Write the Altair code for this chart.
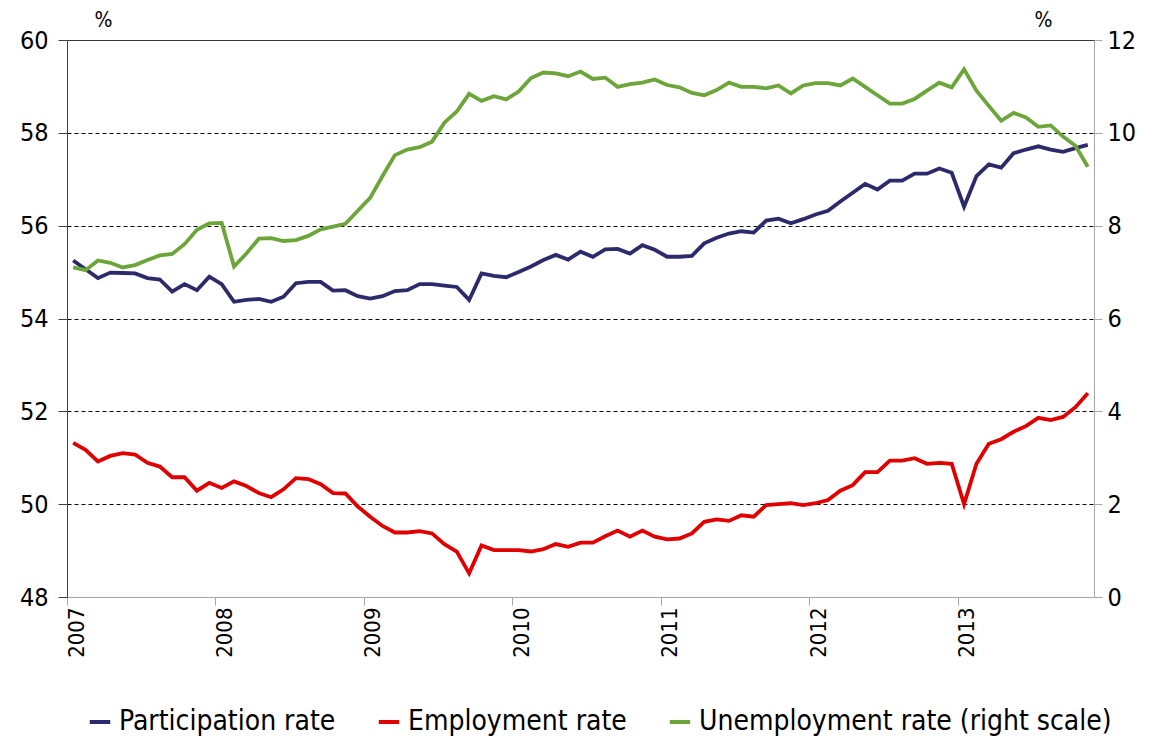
import altair as alt
import pandas as pd

years = [2007, 2008, 2009, 2010, 2011, 2012, 2013]
series_names = ["Participation rate", "Employment rate", "Unemployment rate (right scale)"]
colors = ["#2C2A6B", "#E00000", "#6CA63A"]

participation = [
    55.25, 55.06, 54.87, 54.99, 54.98, 54.97, 54.87, 54.84, 54.58, 54.74, 54.61, 54.90,
    54.74, 54.36, 54.40, 54.42, 54.36, 54.47, 54.76, 54.79, 54.79, 54.60, 54.61, 54.48,
    54.43, 54.48, 54.59, 54.61, 54.74, 54.74, 54.71, 54.68, 54.40, 54.97, 54.92, 54.89,
    55.00, 55.12, 55.26, 55.37, 55.27, 55.44, 55.33, 55.49, 55.50, 55.40, 55.58, 55.48,
    55.33, 55.33, 55.35, 55.62, 55.74, 55.83, 55.88, 55.85, 56.11, 56.15, 56.05, 56.14,
    56.24, 56.32, 56.52, 56.71, 56.90, 56.78, 56.97, 56.97, 57.12, 57.12, 57.23, 57.14,
    56.41, 57.07, 57.32, 57.25, 57.56, 57.64, 57.71, 57.64, 57.59, 57.67, 57.74,
]
employment = [
    51.32, 51.17, 50.92, 51.04, 51.10, 51.07, 50.89, 50.81, 50.58, 50.58, 50.29, 50.46,
    50.35, 50.49, 50.39, 50.24, 50.15, 50.32, 50.56, 50.54, 50.43, 50.24, 50.23, 49.95,
    49.73, 49.53, 49.39, 49.39, 49.42, 49.37, 49.14, 48.98, 48.51, 49.11, 49.01, 49.01,
    49.01, 48.98, 49.03, 49.14, 49.08, 49.17, 49.17, 49.31, 49.43, 49.30, 49.43, 49.30,
    49.24, 49.26, 49.37, 49.62, 49.67, 49.64, 49.76, 49.73, 49.98, 50.00, 50.02, 49.98,
    50.02, 50.09, 50.29, 50.41, 50.69, 50.69, 50.94, 50.94, 50.99, 50.87, 50.89, 50.87,
    50.00, 50.87, 51.30, 51.40, 51.56, 51.68, 51.86, 51.81, 51.88, 52.09, 52.39,
]
unemployment = [
    7.10, 7.04, 7.25, 7.20, 7.10, 7.15, 7.26, 7.36, 7.39, 7.60, 7.91, 8.05,
    8.06, 7.12, 7.40, 7.72, 7.73, 7.67, 7.69, 7.78, 7.92, 7.98, 8.04, 8.32,
    8.60, 9.07, 9.52, 9.64, 9.69, 9.81, 10.22, 10.46, 10.84, 10.69, 10.79, 10.72,
    10.89, 11.18, 11.30, 11.28, 11.22, 11.32, 11.16, 11.19, 10.99, 11.05, 11.08, 11.15,
    11.03, 10.98, 10.86, 10.81, 10.92, 11.08, 10.99, 10.99, 10.96, 11.02, 10.85, 11.02,
    11.07, 11.07, 11.02, 11.17, 10.99, 10.81, 10.63, 10.63, 10.73, 10.91, 11.08, 10.98,
    11.37, 10.91, 10.58, 10.26, 10.43, 10.33, 10.13, 10.16, 9.92, 9.72, 9.27,
]

n = len(participation)
month = [i + 0.5 for i in range(n)]

left_df = pd.DataFrame({
    "m": month * 2,
    "value": participation + employment,
    "series": [series_names[0]] * n + [series_names[1]] * n,
})
right_df = pd.DataFrame({
    "m": month,
    "value": unemployment,
    "series": [series_names[2]] * n,
})

FONT = "DejaVu Sans Condensed"
FS_X = 22
FS_Y = 25
FS_LEG = 28

year_label_expr = "[" + ",".join(f"'{y}'" for y in years) + "][round(datum.value/12)]"

x_enc = alt.X(
    "m:Q",
    scale=alt.Scale(domain=[0, n], nice=False, zero=False),
    axis=alt.Axis(
        values=[12 * k for k in range(len(years))],
        labelExpr=year_label_expr,
        labelAngle=-90,
        labelOffset=9,
        labelPadding=2,
        grid=False,
        domainColor="#A6A6A6",
        tickColor="#A6A6A6",
        tickSize=8,
        labelFontSize=FS_X,
        labelFont=FONT,
        labelColor="black",
        title=None,
    ),
)

color_enc = alt.Color(
    "series:N",
    scale=alt.Scale(domain=series_names, range=colors),
    legend=alt.Legend(
        title=None,
        orient="none",
        direction="horizontal",
        legendX=19,
        legendY=668,
        symbolType="stroke",
        symbolStrokeWidth=4,
        symbolSize=420,
        labelFont=FONT,
        labelFontSize=FS_LEG,
        labelColor="black",
        labelOffset=5,
        columnPadding=34,
        labelLimit=500,
    ),
)

left = alt.Chart(left_df).mark_line(strokeWidth=3.8).encode(
    x=x_enc,
    y=alt.Y(
        "value:Q",
        scale=alt.Scale(domain=[48, 60], nice=False, zero=False),
        axis=alt.Axis(
            values=[48, 50, 52, 54, 56, 58, 60],
            grid=True,
            gridColor="black",
            gridDash={"condition": {"test": "datum.value == 60", "value": [1, 0]}, "value": [4, 3]},
            gridWidth=1,
            domainColor="#404040",
            tickColor="#404040",
            tickSize=9,
            labelPadding=10,
            labelFont=FONT,
            labelFontSize=FS_Y,
            labelColor="black",
            title="%",
            titleAngle=0,
            titleX=36,
            titleY=-20,
            titleAlign="center",
            titleBaseline="middle",
            titleFont=FONT,
            titleFontSize=21,
            titleFontWeight="normal",
        ),
    ),
    color=color_enc,
    order="m:Q",
)

right = alt.Chart(right_df).mark_line(strokeWidth=3.8).encode(
    x=x_enc,
    y=alt.Y(
        "value:Q",
        scale=alt.Scale(domain=[0, 12], nice=False, zero=False),
        axis=alt.Axis(
            orient="right",
            values=[0, 2, 4, 6, 8, 10, 12],
            grid=False,
            domainColor="#A6A6A6",
            tickColor="#A6A6A6",
            tickSize=8,
            labelPadding=5,
            labelFont=FONT,
            labelFontSize=FS_Y,
            labelColor="black",
            title="%",
            titleAngle=0,
            titleX=-51,
            titleY=-20,
            titleAlign="center",
            titleBaseline="middle",
            titleFont=FONT,
            titleFontSize=21,
            titleFontWeight="normal",
        ),
    ),
    color=color_enc,
    order="m:Q",
)

chart = alt.layer(left, right).resolve_scale(y="independent").properties(
    width=1027,
    height=557,
    autosize=alt.AutoSizeParams(type="none"),
    padding={"left": 59, "top": 32, "right": 60, "bottom": 139},
).configure_view(stroke=None).configure(background="white")

chart.save("out.html", embed_options={"renderer": "svg", "actions": False})
